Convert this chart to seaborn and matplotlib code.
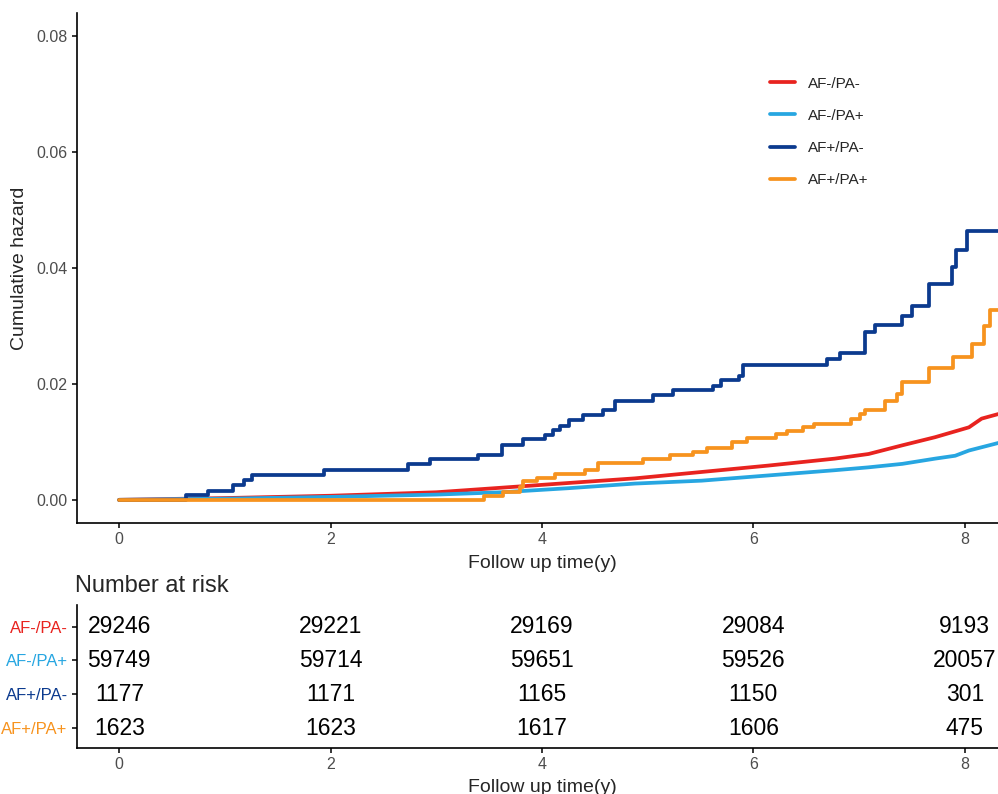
import matplotlib
matplotlib.use("Agg")
import matplotlib.pyplot as plt
import pandas as pd
import seaborn as sns
from matplotlib.lines import Line2D

# Groups, colours
groups = ["AF-/PA-", "AF-/PA+", "AF+/PA-", "AF+/PA+"]
colors = ["#E8231F", "#27A6E1", "#0B3A8E", "#F7931E"]

# Cumulative hazard, AF-/PA- (large group, nearly smooth)
t_af0_pa0 = [0, 1.0, 2.0, 3.0, 3.55, 4.25, 4.88, 5.51, 6.14, 6.77, 7.09, 7.41, 7.72, 8.04, 8.16, 8.36]
h_af0_pa0 = [0, 0.0003, 0.0007, 0.0013, 0.0020, 0.0029, 0.0037, 0.0048, 0.0059, 0.0071, 0.0079,
             0.0094, 0.0108, 0.0125, 0.0140, 0.0150]

# Cumulative hazard, AF-/PA+ (large group, nearly smooth)
t_af0_pa1 = [0, 1.0, 2.0, 3.0, 3.62, 4.25, 4.88, 5.51, 6.14, 6.77, 7.09, 7.41, 7.72, 7.91, 8.04, 8.36]
h_af0_pa1 = [0, 0.0002, 0.0005, 0.0009, 0.0013, 0.0020, 0.0028, 0.0033, 0.0042, 0.0051, 0.0056,
             0.0062, 0.0071, 0.0076, 0.0085, 0.0100]

# Cumulative hazard, AF+/PA- (step function)
t_af1_pa0 = [0, 0.63, 0.84, 1.08, 1.18, 1.26, 1.94, 2.73, 2.94, 3.39, 3.62, 3.82, 4.03, 4.10, 4.17,
             4.26, 4.39, 4.58, 4.69, 5.05, 5.24, 5.62, 5.69, 5.86, 5.90, 6.70, 6.82, 7.06, 7.15,
             7.41, 7.50, 7.66, 7.88, 7.92, 8.02, 8.40]
h_af1_pa0 = [0, 0.0008, 0.0016, 0.0026, 0.0034, 0.0043, 0.0052, 0.0061, 0.0070, 0.0078, 0.0095,
             0.0104, 0.0112, 0.0121, 0.0128, 0.0137, 0.0147, 0.0155, 0.0171, 0.0180, 0.0190,
             0.0197, 0.0206, 0.0214, 0.0233, 0.0242, 0.0253, 0.0289, 0.0301, 0.0317, 0.0334,
             0.0372, 0.0402, 0.0430, 0.0463, 0.0463]

# Cumulative hazard, AF+/PA+ (step function)
t_af1_pa1 = [0, 3.45, 3.63, 3.79, 3.82, 3.95, 4.12, 4.41, 4.53, 4.96, 5.21, 5.43, 5.56, 5.80, 5.94,
             6.21, 6.32, 6.47, 6.57, 6.92, 7.01, 7.06, 7.25, 7.36, 7.41, 7.66, 7.89, 8.07, 8.18,
             8.24, 8.40]
h_af1_pa1 = [0, 0.0007, 0.0013, 0.0022, 0.0032, 0.0038, 0.0045, 0.0052, 0.0063, 0.0071, 0.0078,
             0.0083, 0.0089, 0.0099, 0.0106, 0.0114, 0.0119, 0.0125, 0.0131, 0.0140, 0.0148,
             0.0155, 0.0171, 0.0183, 0.0204, 0.0227, 0.0246, 0.0269, 0.0299, 0.0328, 0.0328]

# Number at risk table
risk_times = [0, 2, 4, 6, 8]
risk_af0_pa0 = [29246, 29221, 29169, 29084, 9193]
risk_af0_pa1 = [59749, 59714, 59651, 59526, 20057]
risk_af1_pa0 = [1177, 1171, 1165, 1150, 301]
risk_af1_pa1 = [1623, 1623, 1617, 1606, 475]

x_ticks = [0, 2, 4, 6, 8]
y_ticks = [0.00, 0.02, 0.04, 0.06, 0.08]

sns.set_style("ticks")
plt.rcParams["font.family"] = ["Liberation Sans", "DejaVu Sans"]

curves = [
    (t_af0_pa0, h_af0_pa0, False),
    (t_af0_pa1, h_af0_pa1, False),
    (t_af1_pa0, h_af1_pa0, True),
    (t_af1_pa1, h_af1_pa1, True),
]
line_w = 2.7

fig = plt.figure(figsize=(9.98, 7.94), dpi=100)
left = 77 / 998
width = (1007 - 77) / 998
ax = fig.add_axes([left, 1 - 523 / 794, width, (523 - 12.7) / 794])
ax_r = fig.add_axes([left, 1 - 748 / 794, width, (748 - 605) / 794])

axis_grey = "#4D4D4D"

for (t, h, stepped), grp, col in zip(curves, groups, colors):
    df = pd.DataFrame({"time": t, "hazard": h})
    kw = dict(drawstyle="steps-post") if stepped else {}
    sns.lineplot(data=df, x="time", y="hazard", ax=ax, color=col, linewidth=line_w,
                 estimator=None, sort=False, legend=False, **kw)

ax.set_xlim(-0.4, 8.4)
ax.set_ylim(-0.004, 0.084)
ax.set_xticks(x_ticks)
ax.set_xticklabels([str(v) for v in x_ticks])
ax.set_yticks(y_ticks)
ax.set_yticklabels([f"{v:.2f}" for v in y_ticks])
ax.set_xlabel("Follow up time(y)", fontsize=14, labelpad=6)
ax.set_ylabel("Cumulative hazard", fontsize=14, labelpad=6)
sns.despine(ax=ax)

handles = [Line2D([], [], color=c, linewidth=line_w) for c in colors]
fig.legend(handles, groups, loc="upper left", bbox_to_anchor=(770 / 998, 1 - 76.5 / 794),
           frameon=False, fontsize=11, borderpad=0, borderaxespad=0, handlelength=1.65,
           handletextpad=0.85, labelspacing=1.2)

# Number at risk table
risk_rows = [risk_af0_pa0, risk_af0_pa1, risk_af1_pa0, risk_af1_pa1]
for i, row in enumerate(risk_rows):
    for t, n in zip(risk_times, row):
        ax_r.text(t, i, f"{n}", ha="center", va="center", fontsize=16.5, color="black")

ax_r.set_xlim(-0.4, 8.4)
ax_r.set_ylim(3.59, -0.64)
ax_r.set_xticks(x_ticks)
ax_r.set_xticklabels([str(v) for v in x_ticks])
ax_r.set_yticks(range(len(groups)))
ax_r.set_yticklabels(groups)
ax_r.set_xlabel("Follow up time(y)", fontsize=14, labelpad=5)
ax_r.set_ylabel("")
ax_r.set_title("Number at risk", loc="left", fontsize=17, pad=9, x=-0.002)
sns.despine(ax=ax_r)

for a in (ax, ax_r):
    for s in ("left", "bottom"):
        a.spines[s].set_linewidth(1.2)
        a.spines[s].set_color("black")
    a.tick_params(axis="both", length=3.6, width=1.1, color="black", labelsize=11.5,
                  labelcolor=axis_grey, pad=3)
    a.grid(False)
ax_r.tick_params(axis="y", labelsize=12)
for lbl, col in zip(ax_r.get_yticklabels(), colors):
    lbl.set_color(col)

fig.savefig("out.png", dpi=100)
